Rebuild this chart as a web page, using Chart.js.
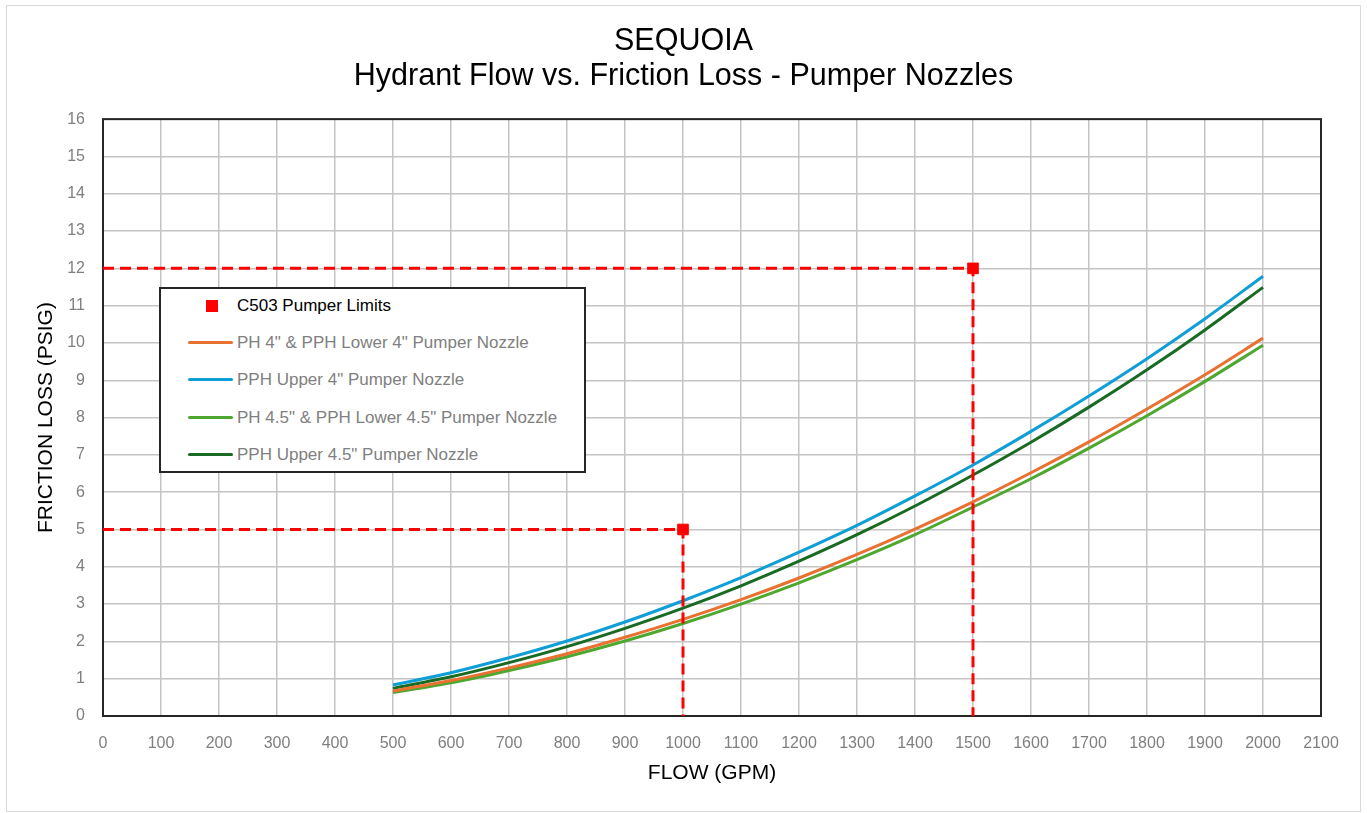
<!DOCTYPE html>
<html>
<head>
<meta charset="utf-8">
<script src="https://cdn.jsdelivr.net/npm/chart.js@4.4.1/dist/chart.umd.min.js"></script>
<style>
    body { margin: 0; background: #fff; }
    #wrap { position: absolute; left: 0; top: 0; width: 1367px; height: 813px; }
    #frame { position: absolute; left: 6px; top: 5px; width: 1353px; height: 805px; border: 1px solid #d9d9d9; pointer-events: none; }
    #legend { position: absolute; left: 159px; top: 287px; width: 423px; height: 182px; background: #fff; border: 2px solid #262626; font-family: 'Liberation Sans', Arial, sans-serif; font-size: 17px; }
    .item { position: absolute; left: 0; height: 20px; width: 100%; }
    .item .swatch { position: absolute; }
    .item .txt { position: absolute; left: 76px; top: 0; line-height: 20px; white-space: nowrap; }
</style>
</head>
<body>
<div id="wrap">
    <canvas id="chart" width="1367" height="813"></canvas>
    <div id="frame"></div>
    <div id="legend"></div>
</div>
<script>
// 流量 (GPM)
const flows = [500, 600, 700, 800, 900, 1000, 1100, 1200, 1300, 1400, 1500, 1600, 1700, 1800, 1900, 2000];

// 摩擦損失 (PSIG) - 各ノズル
const ph4Lower   = [0.67, 0.95, 1.29, 1.67, 2.11, 2.59, 3.12, 3.70, 4.33, 5.01, 5.74, 6.52, 7.35, 8.23, 9.15, 10.13];
const pphUpper4  = [0.83, 1.16, 1.56, 2.01, 2.52, 3.09, 3.71, 4.39, 5.11, 5.90, 6.73, 7.63, 8.58, 9.58, 10.65, 11.79];
const ph45Lower  = [0.63, 0.89, 1.22, 1.59, 2.01, 2.48, 3.00, 3.57, 4.19, 4.86, 5.60, 6.36, 7.18, 8.05, 8.97, 9.94];
const pphUpper45 = [0.74, 1.05, 1.43, 1.86, 2.35, 2.89, 3.49, 4.15, 4.86, 5.63, 6.46, 7.34, 8.28, 9.28, 10.35, 11.49];

// C503 ポンパー限界
const limitFlows = [1000, 1500];
const limitPsi = [5, 12];

// 軸
const xTickMax = 2100;
const xTickStep = 100;
const yTickMax = 16;
const yTickStep = 1;

const colors = {
    orange: '#E97132',
    blue: '#0F9ED5',
    green: '#4EA72E',
    darkGreen: '#196B24',
    red: '#FF0000',
    grid: '#c4c4c4',
    tick: '#7f7f7f'
};

const FONT = "'Liberation Sans', Arial, sans-serif";

function curve(label, values, color) {
    return {
        label: label,
        data: flows.map((f, i) => ({ x: f, y: values[i] })),
        borderColor: color,
        backgroundColor: color,
        borderWidth: 3,
        pointRadius: 0,
        tension: 0.3,
        showLine: true,
        order: 2
    };
}

// 破線ガイド (軸から限界点まで)
const guideSets = limitFlows.map((f, i) => ({
    label: 'guide',
    isGuide: true,
    data: [{ x: 0, y: limitPsi[i] }, { x: f, y: limitPsi[i] }, { x: f, y: 0 }],
    borderColor: colors.red,
    borderWidth: 3,
    borderDash: [11, 6],
    pointRadius: 0,
    showLine: true,
    fill: false,
    order: 1
}));

const datasets = [
    {
        label: 'C503 Pumper Limits',
        data: limitFlows.map((f, i) => ({ x: f, y: limitPsi[i] })),
        backgroundColor: colors.red,
        borderColor: colors.red,
        pointStyle: 'rect',
        pointRadius: 7.5,
        showLine: false,
        order: 0,
        legendColor: '#000'
    },
    curve('PH 4" & PPH Lower 4" Pumper Nozzle', ph4Lower, colors.orange),
    curve('PPH Upper 4" Pumper Nozzle', pphUpper4, colors.blue),
    curve('PH 4.5" & PPH Lower 4.5" Pumper Nozzle', ph45Lower, colors.green),
    curve('PPH Upper 4.5" Pumper Nozzle', pphUpper45, colors.darkGreen),
    ...guideSets
];

// プロット枠
const plotBorder = {
    id: 'plotBorder',
    beforeDatasetsDraw(chart) {
        const { ctx, chartArea: a } = chart;
        ctx.save();
        ctx.strokeStyle = '#262626';
        ctx.lineWidth = 2;
        ctx.strokeRect(a.left, a.top, a.right - a.left, a.bottom - a.top);
        ctx.restore();
    }
};

const chart = new Chart(document.getElementById('chart'), {
    type: 'scatter',
    data: { datasets: datasets },
    plugins: [plotBorder],
    options: {
        responsive: false,
        animation: false,
        layout: { padding: 0 },
        plugins: {
            legend: { display: false },
            tooltip: { enabled: false },
            title: {
                display: true,
                text: ['SEQUOIA', 'Hydrant Flow vs. Friction Loss - Pumper Nozzles'],
                color: '#000',
                font: { family: FONT, size: 30.5, weight: 'normal', lineHeight: 1.15 },
                padding: { top: 24, bottom: 25 }
            }
        },
        scales: {
            x: {
                type: 'linear',
                min: 0,
                max: xTickMax,
                border: { display: false },
                grid: { color: colors.grid, lineWidth: 1.5, drawTicks: false },
                ticks: {
                    stepSize: xTickStep, padding: 18, color: colors.tick,
                    font: { family: FONT, size: 16 }, maxRotation: 0,
                    callback: v => String(v)
                },
                title: { display: true, text: 'FLOW (GPM)', color: '#000', font: { family: FONT, size: 21 }, padding: { top: 0, bottom: 27 } },
                afterFit(scale) { scale.height = 97; }
            },
            y: {
                type: 'linear',
                min: 0,
                max: yTickMax,
                border: { display: false },
                grid: { color: colors.grid, lineWidth: 1.5, drawTicks: false },
                ticks: { stepSize: yTickStep, padding: 18, color: colors.tick, font: { family: FONT, size: 16 } },
                title: { display: true, text: 'FRICTION LOSS (PSIG)', color: '#000', font: { family: FONT, size: 21 }, padding: { top: 34, bottom: 0 } },
                afterFit(scale) { scale.width = 103; }
            },
            // 右側の余白用 (非表示)
            yRight: {
                type: 'linear',
                position: 'right',
                min: 0,
                max: yTickMax,
                border: { display: false },
                grid: { display: false },
                ticks: { display: false },
                afterFit(scale) { scale.width = 46; }
            }
        }
    }
});

// 凡例 (プロット内のボックス)
function buildLegend() {
    const box = document.getElementById('legend');
    let row = 0;
    chart.data.datasets.forEach(ds => {
        if (ds.isGuide) return;
        const item = document.createElement('div');
        item.className = 'item';
        item.style.top = (7 + row * 37.2) + 'px';
        const sw = document.createElement('div');
        sw.className = 'swatch';
        if (ds.pointStyle === 'rect') {
            sw.style.cssText = 'left:45px;top:4px;width:12px;height:12px;background:' + ds.backgroundColor;
        } else {
            sw.style.cssText = 'left:27px;top:8px;width:45px;height:3px;border-radius:2px;background:' + ds.borderColor;
        }
        const txt = document.createElement('div');
        txt.className = 'txt';
        txt.style.color = ds.legendColor || '#808080';
        txt.textContent = ds.label;
        item.appendChild(sw);
        item.appendChild(txt);
        box.appendChild(item);
        row++;
    });
}
buildLegend();
</script>
</body>
</html>
